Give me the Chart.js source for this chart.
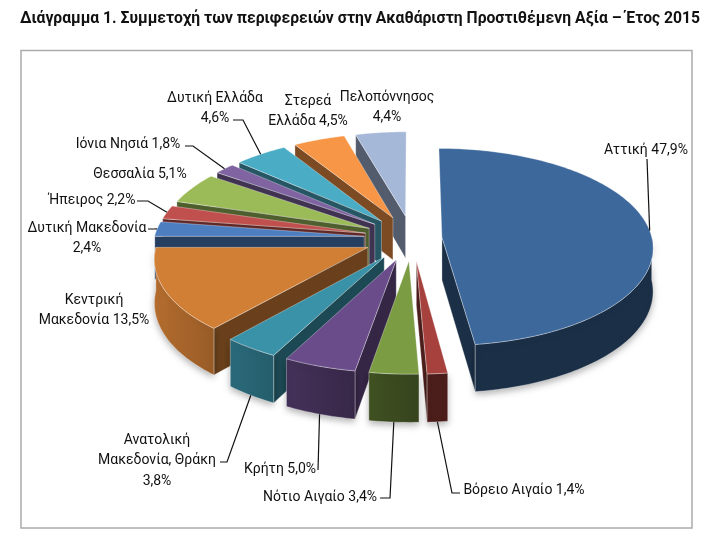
<!DOCTYPE html>
<html>
<head>
<meta charset="utf-8">
<script src="https://cdn.jsdelivr.net/npm/chart.js@4.4.1/dist/chart.umd.min.js"></script>
<style>
  html, body { margin: 0; padding: 0; background: #fff; }
  #wrap { position: relative; width: 720px; height: 544px; }
  #pie { position: absolute; left: 0; top: 0; }
  #title { position: absolute; left: 0; top: 8px; width: 720px; text-align: center;
           font: bold 15.7px Roboto, sans-serif; line-height: 20px; color: #111; }
</style>
</head>
<body>
<div id="wrap">
  <canvas id="pie" width="720" height="544"></canvas>
  <div id="title">Διάγραμμα 1. Συμμετοχή των περιφερειών στην Ακαθάριστη Προστιθέμενη Αξία – Έτος 2015</div>
</div>
<script>
// regions in drawing order, clockwise from 12 o'clock
const regions = ['Αττική', 'Βόρειο Αιγαίο', 'Νότιο Αιγαίο', 'Κρήτη', 'Ανατολική Μακεδονία, Θράκη',
  'Κεντρική Μακεδονία', 'Δυτική Μακεδονία', 'Ήπειρος', 'Θεσσαλία', 'Ιόνια Νησιά',
  'Δυτική Ελλάδα', 'Στερεά Ελλάδα', 'Πελοπόννησος'];
const shares = [47.9, 1.4, 3.4, 5.0, 3.8, 13.5, 2.4, 2.2, 5.1, 1.8, 4.6, 4.5, 4.4];
const colors = ['#3d689c', '#a6413d', '#7b9c42', '#6a4c8a', '#3a92a8', '#d27f36', '#4c7ec0',
  '#c0504d', '#9bbb59', '#8064a2', '#4bacc6', '#f79646', '#a6b8d8'];

// label placement: text centre, first line y, words per line, leader [labelX, labelY, elbowX]
const labelLayout = [
  { x: 646, y: 150, lines: [3], leader: [647, 159, 647] },
  { x: 524, y: 490, lines: [3], leader: [460, 493, 452] },
  { x: 320, y: 497, lines: [3], leader: [380, 498, 390] },
  { x: 280, y: 469, lines: [2], leader: [318, 470, 318] },
  { x: 157, y: 440, lines: [1, 2, 1], leader: [220, 462, 227] },
  { x: 94, y: 300, lines: [1, 2] },
  { x: 87, y: 228, lines: [2, 1], leader: [148, 229, 154] },
  { x: 92, y: 200, lines: [2], leader: [137, 201, 148] },
  { x: 140, y: 174, lines: [2] },
  { x: 128, y: 144, lines: [3], leader: [185, 146, 193] },
  { x: 215, y: 98, lines: [2, 1], leader: [233, 120, 243] },
  { x: 308, y: 101, lines: [1, 2] },
  { x: 387, y: 97, lines: [1, 1] }
];

const TILT = 0.47;    // vertical squash of the pie
const PERSP = 0.1;    // front gets a bit larger
const DEPTH = 43;     // thickness of the pie
const LABEL_FONT = '14px Roboto, sans-serif';

function shade(hex, k) {
  const n = parseInt(hex.slice(1), 16);
  const r = Math.round(((n >> 16) & 255) * k), g = Math.round(((n >> 8) & 255) * k), b = Math.round((n & 255) * k);
  return `rgb(${Math.min(r, 255)},${Math.min(g, 255)},${Math.min(b, 255)})`;
}

function project(arc, wx, wy, z) {
  const f = 1 + PERSP * wy / arc.outerRadius;
  return [arc.x + wx * f, arc.y + wy * TILT * f + z * f];
}

function slicePoint(arc, a, rad, z) {
  const mid = (arc.startAngle + arc.endAngle) / 2;
  const off = arc.options.offset || 0;
  return project(arc, Math.cos(mid) * off + Math.cos(a) * rad, Math.sin(mid) * off + Math.sin(a) * rad, z);
}

function arcPoints(arc, from, to, z) {
  const pts = [];
  const steps = Math.max(2, Math.ceil(Math.abs(to - from) / 0.02));
  for (let s = 0; s <= steps; s++) {
    pts.push(slicePoint(arc, from + (to - from) * s / steps, arc.outerRadius, z));
  }
  return pts;
}

function fillPoly(ctx, pts, fill) {
  ctx.beginPath();
  pts.forEach((p, i) => (i ? ctx.lineTo(p[0], p[1]) : ctx.moveTo(p[0], p[1])));
  ctx.closePath();
  ctx.fillStyle = fill;
  ctx.fill();
  ctx.strokeStyle = 'rgba(255,255,255,0.4)';
  ctx.lineWidth = 0.8;
  ctx.stroke();
}

function drawSlice(ctx, arc, color) {
  const a0 = arc.startAngle, a1 = arc.endAngle, r = arc.outerRadius;
  const apexT = slicePoint(arc, 0, 0, 0), apexB = slicePoint(arc, 0, 0, DEPTH);

  // radial walls
  if (Math.cos(a0) < 0) {
    fillPoly(ctx, [apexT, slicePoint(arc, a0, r, 0), slicePoint(arc, a0, r, DEPTH), apexB], shade(color, 0.5));
  }
  if (Math.cos(a1) > 0) {
    fillPoly(ctx, [apexT, slicePoint(arc, a1, r, 0), slicePoint(arc, a1, r, DEPTH), apexB], shade(color, 0.45));
  }
  // outer wall (front half only)
  const aa = Math.max(a0, 0), ab = Math.min(a1, Math.PI);
  if (ab > aa) {
    const top = arcPoints(arc, aa, ab, 0);
    const bottom = arcPoints(arc, aa, ab, DEPTH).reverse();
    const x0 = top[0][0], x1 = top[top.length - 1][0];
    const grad = ctx.createLinearGradient(x0, 0, x1, 0);
    for (let s = 0; s <= 6; s++) {
      const a = aa + (ab - aa) * s / 6;
      const px = slicePoint(arc, a, r, 0)[0];
      const t = x1 === x0 ? 0 : (px - x0) / (x1 - x0);
      grad.addColorStop(Math.min(1, Math.max(0, t)), shade(color, 0.45 + 0.42 * Math.max(0, -Math.cos(a))));
    }
    ctx.save();
    ctx.shadowColor = 'rgba(0,0,0,0.3)';
    ctx.shadowBlur = 7;
    ctx.shadowOffsetY = 3;
    fillPoly(ctx, top.concat(bottom), grad);
    ctx.restore();
  }
  // top face
  fillPoly(ctx, [apexT].concat(arcPoints(arc, a0, a1, 0)), color);
}

function drawLabels(ctx, arcs) {
  ctx.font = LABEL_FONT;
  ctx.fillStyle = '#111';
  ctx.textAlign = 'center';
  ctx.textBaseline = 'middle';
  ctx.strokeStyle = '#111';
  ctx.lineWidth = 1.2;
  labelLayout.forEach((lay, i) => {
    const words = regions[i].split(' ').concat(shares[i].toFixed(1).replace('.', ',') + '%');
    let w = 0;
    lay.lines.forEach((count, li) => {
      ctx.fillText(words.slice(w, w + count).join(' '), lay.x, lay.y + li * 20.5);
      w += count;
    });
    if (lay.leader) {
      const arc = arcs[i];
      const mid = (arc.startAngle + arc.endAngle) / 2;
      const front = Math.sin(mid) > 0.5;
      const anchor = slicePoint(arc, mid, arc.outerRadius, front ? DEPTH : 0);
      const [lx, ly, ex] = lay.leader;
      ctx.beginPath();
      ctx.moveTo(lx, ly);
      ctx.lineTo(ex, ly);
      ctx.lineTo(anchor[0], anchor[1]);
      ctx.stroke();
    }
  });
}

const pie3d = {
  id: 'pie3d',
  beforeDraw(chart) {
    const ctx = chart.ctx;
    ctx.save();
    ctx.strokeStyle = '#ababab';
    ctx.lineWidth = 1.5;
    ctx.strokeRect(21, 50.5, 671, 477.5);
    ctx.restore();
  },
  beforeDatasetsDraw(chart) {
    const ctx = chart.ctx;
    const arcs = chart.getDatasetMeta(0).data;
    const depthOf = a => Math.sin((a.startAngle + a.endAngle) / 2);
    const order = arcs.map((a, i) => i).sort((i, j) => depthOf(arcs[i]) - depthOf(arcs[j]));
    ctx.save();
    order.forEach(i => drawSlice(ctx, arcs[i], colors[i]));
    drawLabels(ctx, arcs);
    ctx.restore();
    return false;
  }
};

new Chart(document.getElementById('pie'), {
  type: 'pie',
  data: {
    labels: regions,
    datasets: [{
      data: shares,
      backgroundColor: colors,
      borderWidth: 0,
      offset: ctx => (ctx.dataIndex === 0 ? 30 : 48)
    }]
  },
  options: {
    responsive: false,
    animation: false,
    radius: 210,
    layout: { padding: { left: 104, right: 0, top: 0, bottom: 68 } },
    plugins: {
      legend: { display: false },
      tooltip: { enabled: false },
      title: { display: false }
    }
  },
  plugins: [pie3d]
});
</script>
</body>
</html>
